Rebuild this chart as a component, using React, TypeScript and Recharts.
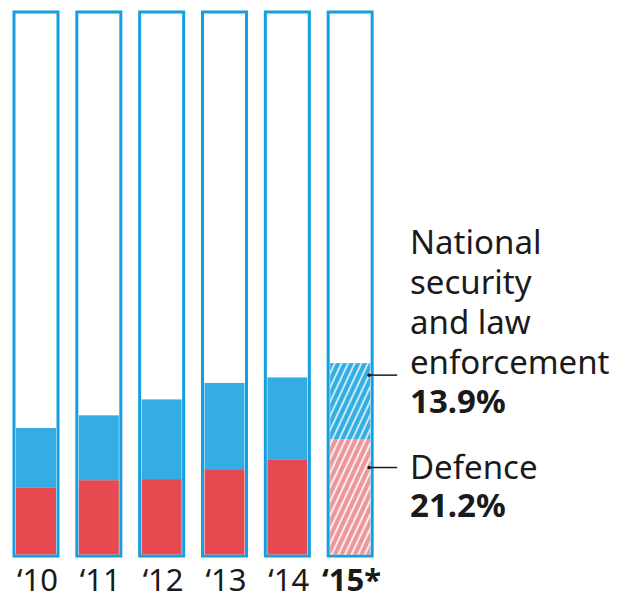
import React from 'react';
import { BarChart, Bar, XAxis, YAxis, LabelList } from 'recharts';

const years = ['10', '11', '12', '13', '14', '15*'];
const defence = [12.5, 13.8, 14.0, 15.8, 17.6, 21.2];
const security = [10.8, 11.8, 14.5, 15.7, 14.9, 13.9];
const securityLabel = ['National', 'security', 'and law', 'enforcement'];

const data = years.map((year, i) => ({
  year,
  defence: defence[i],
  security: security[i],
}));

const OUTLINE = '#139fe0';
const BLUE = '#33ade3';
const RED = '#e64a50';
const FONT = '"Noto Sans", sans-serif';
const LAST = years.length - 1;

const Segment = ({ x, y, width, height, index, fill, hatch }: any) => {
  const f = index === LAST ? hatch : fill;
  return <rect x={x + 2} y={y} width={width - 4} height={Math.max(height - (fill === RED ? 1.5 : 0), 0)} fill={f} />;
};

const YearTick = ({ x, y, payload, index }: any) => (
  <text
    x={x + 1}
    y={y + 27}
    textAnchor="middle"
    fontFamily={FONT}
    fontSize={31}
    fontWeight={index === LAST ? 700 : 400}
    fill="#1a1a1a"
  >
    {'\u2018' + payload.value}
  </text>
);

const SecurityNote = ({ x, y, width, index }: any) => {
  if (index !== LAST) return null;
  const lx = x + width - 3;
  const ly = y + 12;
  return (
    <g fontFamily={FONT} fontSize={33} fill="#1a1a1a">
      <circle cx={lx} cy={ly} r={1.8} fill="#1a1a1a" />
      <line x1={lx} y1={ly} x2={lx + 28} y2={ly} stroke="#1a1a1a" strokeWidth={1.5} />
      <text x={410} y={ly - 121}>
        {securityLabel.map((t, i) => (
          <tspan key={t} x={410} dy={i === 0 ? 0 : 40}>{t}</tspan>
        ))}
        <tspan x={410} dy={39} fontWeight={700}>13.9%</tspan>
      </text>
    </g>
  );
};

const DefenceNote = ({ x, y, width, index }: any) => {
  if (index !== LAST) return null;
  const lx = x + width - 3;
  const ly = y + 28;
  return (
    <g fontFamily={FONT} fontSize={33} fill="#1a1a1a">
      <circle cx={lx} cy={ly} r={1.8} fill="#1a1a1a" />
      <line x1={lx} y1={ly} x2={lx + 28} y2={ly} stroke="#1a1a1a" strokeWidth={1.5} />
      <text x={410} y={ly + 11}>
        <tspan x={410}>Defence</tspan>
        <tspan x={410} dy={38} fontWeight={700}>21.2%</tspan>
      </text>
    </g>
  );
};

export default function App() {
  return (
    <div style={{ position: 'absolute', left: 0, top: 0, background: '#fff' }}>
      <BarChart
        width={619}
        height={599}
        data={data}
        margin={{ top: 12, right: 237, left: 5, bottom: 0 }}
        barSize={44}
      >
        <defs>
          <pattern id="hatchBlue" patternUnits="userSpaceOnUse" width="6" height="6" patternTransform="rotate(25)">
            <rect width="6" height="6" fill={BLUE} />
            <line x1="1" y1="0" x2="1" y2="6" stroke="#ffffff" strokeWidth="1.8" strokeOpacity="0.8" />
          </pattern>
          <pattern id="hatchRed" patternUnits="userSpaceOnUse" width="6" height="6" patternTransform="rotate(25)">
            <rect width="6" height="6" fill="#ee979b" />
            <line x1="1" y1="0" x2="1" y2="6" stroke="#ffffff" strokeWidth="1.8" strokeOpacity="0.9" />
          </pattern>
        </defs>
        <XAxis dataKey="year" axisLine={false} tickLine={false} height={43} tick={<YearTick />} interval={0} />
        <YAxis hide domain={[0, 99]} />
        <Bar
          dataKey="defence"
          stackId="a"
          fill={RED}
          isAnimationActive={false}
          background={{ fill: '#fff', stroke: OUTLINE, strokeWidth: 3 }}
          shape={(p: any) => <Segment {...p} fill={RED} hatch="url(#hatchRed)" />}
        >
          <LabelList dataKey="defence" content={<DefenceNote />} />
        </Bar>
        <Bar
          dataKey="security"
          stackId="a"
          fill={BLUE}
          isAnimationActive={false}
          shape={(p: any) => <Segment {...p} fill={BLUE} hatch="url(#hatchBlue)" />}
        >
          <LabelList dataKey="security" content={<SecurityNote />} />
        </Bar>
      </BarChart>
    </div>
  );
}
